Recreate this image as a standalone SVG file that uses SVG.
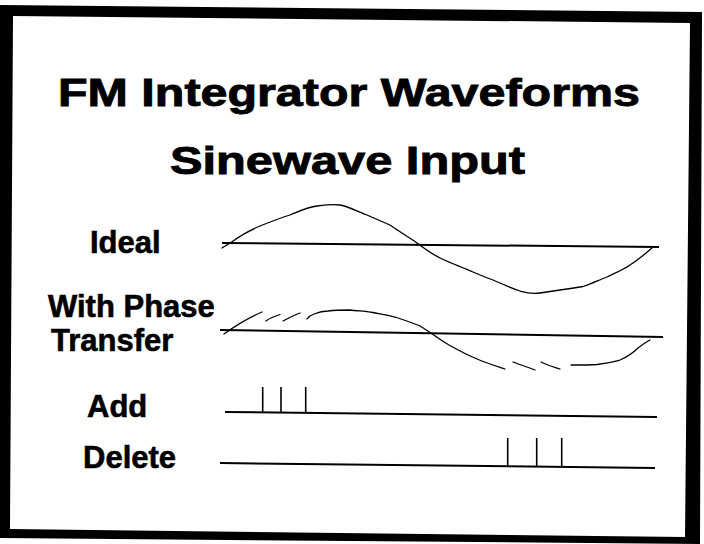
<svg xmlns="http://www.w3.org/2000/svg" width="704" height="544" viewBox="0 0 704 544">
<style>
.title{font-family:"Liberation Sans",Arial,sans-serif;font-weight:bold;font-size:39px;fill:#000;stroke:#000;stroke-width:0.9}
.lbl{font-family:"Liberation Sans",Arial,sans-serif;font-weight:bold;font-size:31px;fill:#000;stroke:#000;stroke-width:0.6}
.axis{stroke:#000;stroke-width:2;fill:none}
.wave{stroke:#000;stroke-width:1.3;fill:none;stroke-linecap:round;stroke-linejoin:round}
.tick{stroke:#000;stroke-width:1.6}
</style>
<rect width="704" height="544" fill="#fff"/>
<path id="frame" fill="#000" fill-rule="evenodd" d="M0,5 L702,12 L700,544 L0,538 Z M13,16 L690,23 L685,537 L10,529 Z"/>
<g id="title">
<text class="title" x="58" y="106" textLength="582" lengthAdjust="spacingAndGlyphs">FM Integrator Waveforms</text>
<text class="title" x="170" y="174" textLength="355" lengthAdjust="spacingAndGlyphs">Sinewave Input</text>
</g>
<g id="ideal">
<text class="lbl" x="90" y="253">Ideal</text>
<line class="axis" x1="222" y1="243" x2="659" y2="247"/>
<path class="wave" d="M222,248 L232,241.7 C240,236 250,230 260,226 C270,222 280,218 290,215 C300,211 308,207 317,206 C325,205 333,204 340,205 C350,207 358,212 367,215 C376,219 383,222 390,225 C400,232 410,238 417,243 C425,249 432,254 440,258 C450,263 462,267 473,272 C480,275 487,278 493,280 C502,284 511,288 520,291 C527,293 533,294 540,293 C547,292 553,291 560,290 C568,289 575,288 583,286.5 C591,284 599,280 607,277 C615,273 623,270 630,265 C638,260 645,254 652,248"/>
</g>
<g id="phase">
<text class="lbl" x="48" y="317">With Phase</text>
<text class="lbl" x="51" y="351">Transfer</text>
<line class="axis" x1="220" y1="330" x2="663" y2="337"/>
<path class="wave" d="M224,334 C235,326 248,318 262,312"/>
<path class="wave" d="M266,321 C270,318 275,316 280,314.5"/>
<path class="wave" d="M283,321 C289,318 294,315 300,313"/>
<path class="wave" d="M307,319 C309,316 311,315 314,314 C319,312 322,311 328,311 C336,310 343,310 350,310 C358,311 365,311 373,312.5 C381,314 388,315 395,317 C404,320 413,323 420,326 C425,329 429,332 433,334.5 C438,338 444,342 449,345 C458,350 467,355 476,358.5 C486,363 496,366 505,369"/>
<path class="wave" d="M513,362 C520,365 528,367 535,370"/>
<path class="wave" d="M541,362 C547,365 554,367 560,369"/>
<path class="wave" d="M571,365 C580,365 589,365 597,364.5 C605,363.5 613,362 620,360 C627,357 633,353 638,348 C642,345 646,342 650,340"/>
</g>
<g id="add">
<text class="lbl" x="87" y="417">Add</text>
<line class="axis" x1="225" y1="412" x2="657" y2="417"/>
<line class="tick" x1="262.7" y1="387" x2="262.7" y2="412.5"/>
<line class="tick" x1="281" y1="387" x2="281" y2="412.7"/>
<line class="tick" x1="305.7" y1="387" x2="305.7" y2="413"/>
</g>
<g id="delete">
<text class="lbl" x="83" y="468">Delete</text>
<line class="axis" x1="220" y1="463" x2="655" y2="468"/>
<line class="tick" x1="507.7" y1="438" x2="507.7" y2="466.4"/>
<line class="tick" x1="536.7" y1="438" x2="536.7" y2="466.7"/>
<line class="tick" x1="561.7" y1="438" x2="561.7" y2="467"/>
</g>
</svg>
